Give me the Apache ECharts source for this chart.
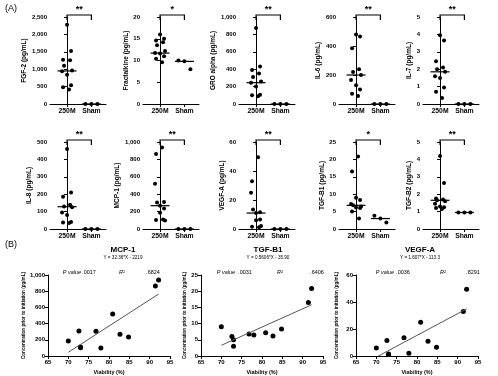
<!DOCTYPE html>
<html>
<head>
<meta charset="utf-8">
<script src="https://cdn.jsdelivr.net/npm/echarts@6/dist/echarts.min.js"></script>
<style>
html, body { margin: 0; padding: 0; background: #fff; }
#chart { width: 498px; height: 376px; }
</style>
</head>
<body>
<div id="chart"></div>
<script>
// groups on the dot plots
var groups = ['250M', 'Sham'];

// viability of the 11 samples (x of panel B)
var viability = [70.0, 72.6, 73.0, 73.0, 76.8, 78.0, 80.9, 82.7, 84.8, 91.4, 92.2];

// concentrations, 250M group (same sample order as viability where used in B)
var fgf2 = [2280, 1520, 1270, 1260, 1100, 960, 940, 840, 540, 480, 420];
var fractalkine = [16.0, 15.0, 14.6, 14.2, 13.5, 12.2, 11.7, 11.6, 11.0, 10.4, 9.6];
var groAlpha = [875, 430, 390, 350, 310, 260, 245, 200, 105, 100, 90];
var il6 = [480, 465, 385, 240, 220, 200, 165, 130, 100, 70, 55];
var il7 = [3.95, 3.65, 2.45, 2.1, 2.0, 1.85, 1.6, 1.5, 0.95, 0.7, 0.35];
var il8 = [460, 210, 185, 140, 130, 125, 95, 80, 40, 38, 35];
var mcp1 = [186, 310, 103, 110, 306, 99, 520, 268, 235, 863, 938];
var vegfA = [6, 11.5, 1.5, 1.2, 13.5, 2, 25, 11, 6.5, 33, 49.5];
var tgfB1 = [9.0, 6.0, 5.0, 3.0, 6.8, 6.5, 7.2, 6.2, 8.3, 16.5, 20.8];
var tgfB2 = [4.2, 2.65, 1.75, 1.7, 1.65, 1.6, 1.45, 1.3, 1.25, 1.2, 1.15];

// sham group
var fgf2Sham = [0, 0, 0];
var fractalkineSham = [10.0, 9.8, 8.0];
var groAlphaSham = [0, 0, 0];
var il6Sham = [0, 0, 0];
var il7Sham = [0, 0, 0];
var il8Sham = [0, 0, 0];
var mcp1Sham = [0, 0, 0];
var vegfASham = [0, 0, 0];
var tgfB1Sham = [3.8, 3.0, 1.9];
var tgfB2Sham = [0.95, 0.95, 0.95];

// median bars [250M, Sham]
var fgf2Median = [950, 0];
var fractalkineMedian = [11.7, 9.8];
var groAlphaMedian = [245, 0];
var il6Median = [200, 0];
var il7Median = [1.85, 0];
var il8Median = [128, 0];
var mcp1Median = [268, 0];
var vegfAMedian = [11, 0];
var tgfB1Median = [6.8, 3.0];
var tgfB2Median = [1.65, 0.95];

// y axis max / interval
var axisMax = [2500, 20, 1000, 600, 5, 500, 1000, 60, 25, 5];
var axisStep = [500, 5, 200, 200, 1, 100, 200, 20, 5, 1];
var stars = ['**', '*', '**', '**', '**', '**', '**', '**', '*', '**'];

// regression lines in B (end points)
var mcp1Fit = [[70, 46], [92.2, 765]];
var tgfB1Fit = [[70, 3.3], [92.2, 15.8]];
var vegfAFit = [[70.5, 0], [92.2, 34.9]];

var panels = [
    { name: 'FGF-2 (pg/mL)', d: fgf2, s: fgf2Sham, m: fgf2Median, left: 50, gap: 22 },
    { name: 'Fractalkine (pg/mL)', d: fractalkine, s: fractalkineSham, m: fractalkineMedian, left: 143, gap: 9 },
    { name: 'GRO alpha (pg/mL)', d: groAlpha, s: groAlphaSham, m: groAlphaMedian, left: 239, gap: 17 },
    { name: 'IL-6 (pg/mL)', d: il6, s: il6Sham, m: il6Median, left: 339, gap: 16 },
    { name: 'IL-7 (pg/mL)', d: il7, s: il7Sham, m: il7Median, left: 423, gap: 6 },
    { name: 'IL-8 (pg/mL)', d: il8, s: il8Sham, m: il8Median, left: 50, gap: 17 },
    { name: 'MCP-1 (pg/mL)', d: mcp1, s: mcp1Sham, m: mcp1Median, left: 143, gap: 17 },
    { name: 'VEGF-A (pg/mL)', d: vegfA, s: vegfASham, m: vegfAMedian, left: 239, gap: 13 },
    { name: 'TGF-B1 (pg/mL)', d: tgfB1, s: tgfB1Sham, m: tgfB1Median, left: 339, gap: 13 },
    { name: 'TGF-B2 (pg/mL)', d: tgfB2, s: tgfB2Sham, m: tgfB2Median, left: 423, gap: 6 }
];

var scatters = [
    { title: 'MCP-1', eq: 'Y = 32.36*X - 2219', p: '.0017', r2: '.6824', d: mcp1, fit: mcp1Fit, max: 1000, step: 200, left: 48, gap: 22, tx: 123 },
    { title: 'TGF-B1', eq: 'Y = 0.5606*X - 35.90', p: '.0031', r2: '.6406', d: tgfB1, fit: tgfB1Fit, max: 25, step: 5, left: 201, gap: 13, tx: 268 },
    { title: 'VEGF-A', eq: 'Y = 1.607*X - 113.3', p: '.0036', r2: '.8291', d: vegfA, fit: vegfAFit, max: 60, step: 20, left: 356, gap: 17, tx: 420 }
];

var jitter = [0, 4, -4, 3, -3, 5, -5, 0, 4, -4, 2];
var shamJitter = [-6, 0, 6];
var font = 'Liberation Sans, Arial, sans-serif';
var ink = '#000';

function comma(v) {
    return v >= 1000 ? v.toLocaleString('en-US') : String(v);
}

var grid = [], xAxis = [], yAxis = [], series = [];

panels.forEach(function (p, i) {
    var top = i < 5 ? 17 : 142;
    grid.push({ left: p.left, top: top, width: 56, height: 87 });
    xAxis.push({
        gridIndex: i, type: 'value', min: -0.7, max: 1.6,
        axisLine: { lineStyle: { color: ink, width: 1 } },
        axisTick: { customValues: [0, 1], length: 3, lineStyle: { color: ink } },
        axisLabel: {
            customValues: [0, 1], margin: 4, fontSize: 6.8, fontWeight: 'bold', color: ink, fontFamily: font,
            formatter: function (v) { return groups[v]; }
        },
        splitLine: { show: false }
    });
    yAxis.push({
        gridIndex: i, type: 'value', min: 0, max: axisMax[i], interval: axisStep[i],
        name: p.name, nameLocation: 'middle', nameGap: p.gap,
        nameTextStyle: { fontSize: 6.5, fontWeight: 'bold', color: ink, fontFamily: font },
        axisLine: { show: true, lineStyle: { color: ink, width: 1 } },
        axisTick: { show: true, length: 3, lineStyle: { color: ink } },
        axisLabel: { margin: 3, fontSize: 6, fontWeight: 'bold', color: ink, fontFamily: font, formatter: comma },
        splitLine: { show: false }
    });
    series.push({
        type: 'scatter', xAxisIndex: i, yAxisIndex: i, symbolSize: 4, itemStyle: { color: ink, opacity: 1 },
        data: p.d.map(function (v, k) { return { value: [0, v], symbolOffset: [jitter[k], 0] }; })
    });
    series.push({
        type: 'scatter', xAxisIndex: i, yAxisIndex: i, symbolSize: 4, itemStyle: { color: ink, opacity: 1 }, z: 3,
        data: p.s.map(function (v, k) { return { value: [1, v], symbolOffset: [shamJitter[k], 0] }; })
    });
    series.push({
        type: 'scatter', xAxisIndex: i, yAxisIndex: i, symbol: 'rect', symbolSize: [19, 1.2],
        itemStyle: { color: ink, opacity: 1 }, data: [[0, p.m[0]], [1, p.m[1]]]
    });
});

scatters.forEach(function (s, j) {
    var gi = panels.length + j;
    grid.push({ left: s.left, top: 275, width: 122, height: 81 });
    xAxis.push({
        gridIndex: gi, type: 'value', min: 65, max: 95, interval: 5,
        name: 'Viability (%)', nameLocation: 'middle', nameGap: 13,
        nameTextStyle: { fontSize: 5.5, fontWeight: 'bold', color: ink, fontFamily: font },
        axisLine: { lineStyle: { color: ink } },
        axisTick: { length: 3, lineStyle: { color: ink } },
        axisLabel: { margin: 3, fontSize: 6, fontWeight: 'bold', color: ink, fontFamily: font },
        splitLine: { show: false }
    });
    yAxis.push({
        gridIndex: gi, type: 'value', min: 0, max: s.max, interval: s.step,
        name: 'Concentration prior to initiation (pg/mL)', nameLocation: 'middle', nameGap: s.gap,
        nameTextStyle: { fontSize: 4.6, fontWeight: 'bold', color: ink, fontFamily: font },
        axisLine: { show: true, lineStyle: { color: ink } },
        axisTick: { show: true, length: 3, lineStyle: { color: ink } },
        axisLabel: { margin: 3, fontSize: 6, fontWeight: 'bold', color: ink, fontFamily: font, formatter: comma },
        splitLine: { show: false }
    });
    series.push({
        type: 'scatter', xAxisIndex: gi, yAxisIndex: gi, symbolSize: 5, itemStyle: { color: ink, opacity: 1 },
        data: viability.map(function (x, k) { return [x, s.d[k]]; })
    });
    series.push({
        type: 'line', xAxisIndex: gi, yAxisIndex: gi, symbol: 'none',
        lineStyle: { color: '#555', width: 1 }, data: s.fit
    });
});

var txt = function (x, y, text, size, extra) {
    var st = { text: text, x: x, y: y, fontSize: size, fill: ink, fontFamily: font, textAlign: 'center', textVerticalAlign: 'middle' };
    for (var k in extra) st[k] = extra[k];
    return { type: 'text', style: st };
};

var graphic = [
    txt(11, 9, '(A)', 9, {}),
    txt(11, 245, '(B)', 9, {})
];
var pRow = [[72, 89, 122, 153], [226, 245, 280, 317], [385, 403, 443, 473]];
scatters.forEach(function (s, j) {
    graphic.push(txt(s.tx, 250, s.title, 8, { fontWeight: 'bold' }));
    graphic.push(txt(s.tx, 257.5, s.eq, 4.6, {}));
    graphic.push(txt(pRow[j][0], 272, 'P value', 5.5, { fontStyle: 'italic' }));
    graphic.push(txt(pRow[j][1], 272, s.p, 5.5, {}));
    graphic.push(txt(pRow[j][2], 272, 'R\u00b2', 5.5, { fontStyle: 'italic' }));
    graphic.push(txt(pRow[j][3], 272, s.r2, 5.5, {}));
});

var myChart = echarts.init(document.getElementById('chart'));
myChart.setOption({
    backgroundColor: '#fff',
    animation: false,
    textStyle: { fontFamily: font },
    grid: grid,
    xAxis: xAxis,
    yAxis: yAxis,
    series: series
});

// significance brackets, placed from the axes of each dot plot
panels.forEach(function (p, i) {
    var a = myChart.convertToPixel({ xAxisIndex: i, yAxisIndex: i }, [0, axisMax[i]]);
    var b = myChart.convertToPixel({ xAxisIndex: i, yAxisIndex: i }, [1, axisMax[i]]);
    var y = a[1] - 2;
    graphic.push({
        type: 'polyline',
        shape: { points: [[a[0], y + 5], [a[0], y], [b[0], y], [b[0], y + 5]] },
        style: { stroke: ink, lineWidth: 1.2, fill: null }
    });
    graphic.push(txt((a[0] + b[0]) / 2, y - 5.5, stars[i], 9, { fontWeight: 'bold' }));
});

myChart.setOption({ graphic: graphic });
</script>
</body>
</html>
